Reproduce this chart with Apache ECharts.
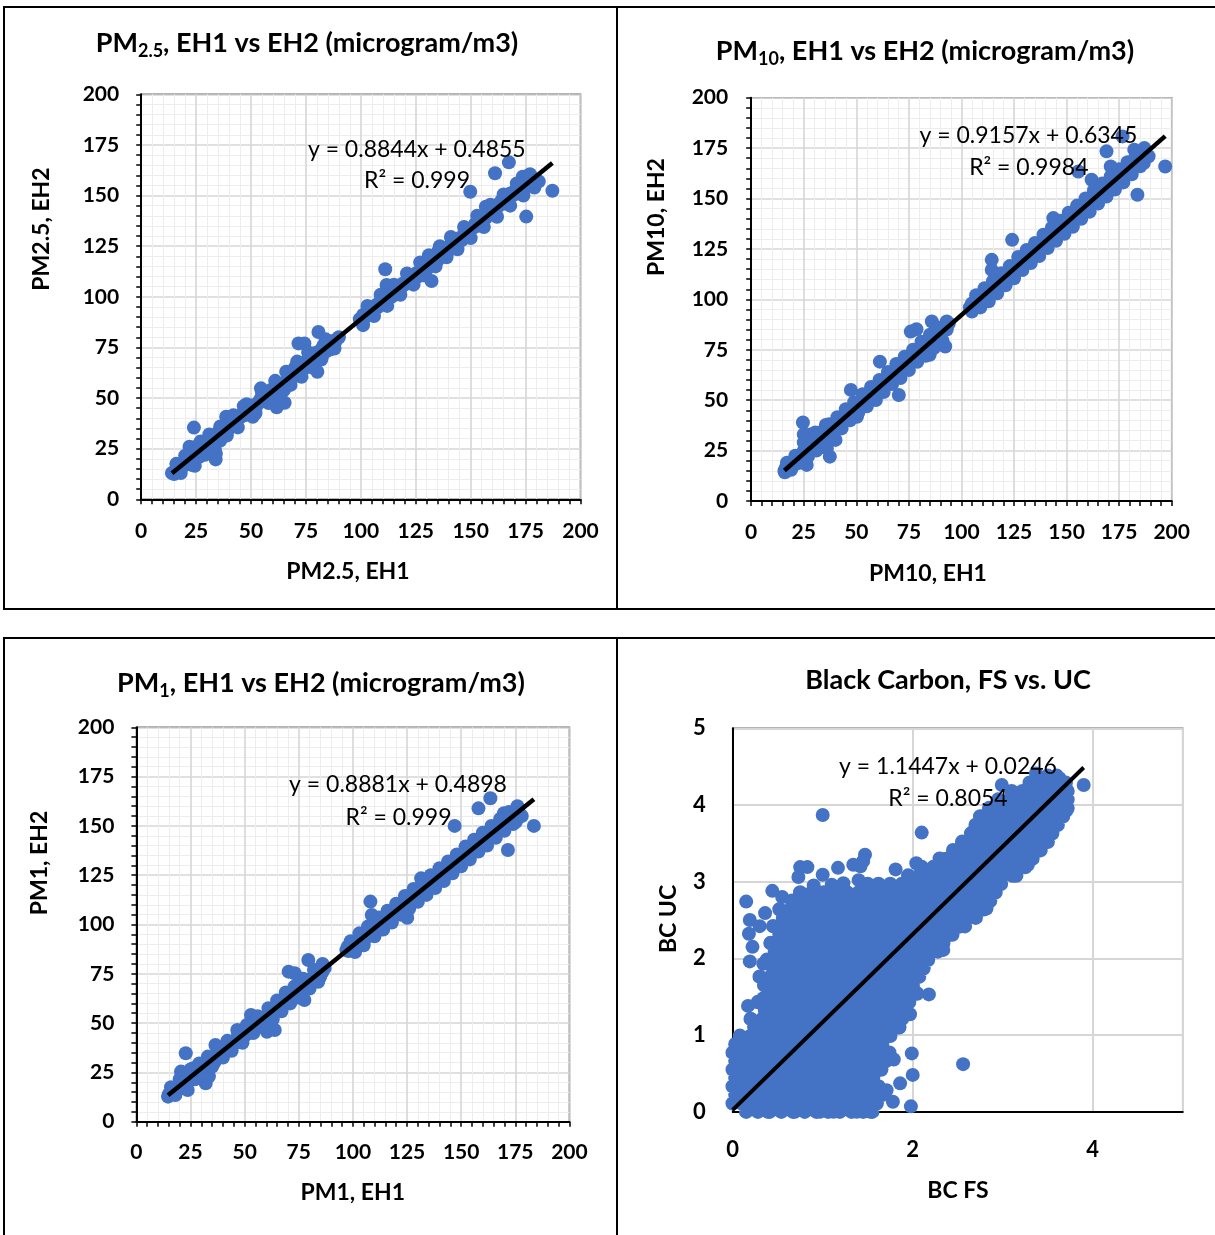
<!DOCTYPE html>
<html><head><meta charset="utf-8">
<script src="https://cdn.jsdelivr.net/npm/echarts/dist/echarts.min.js"></script>
<style>html,body{margin:0;padding:0;background:#fff}#c{width:1215px;height:1235px}</style>
</head><body><div id="c"></div>
<script>
// ---------- DATA ----------
const pmTicks = [0, 25, 50, 75, 100, 125, 150, 175, 200];
const bcXTicks = [0, 2, 4];
const bcYTicks = [0, 1, 2, 3, 4, 5];

const pm25Fit = [0.8844, 0.4855, 0.999];
const pm10Fit = [0.9157, 0.6345, 0.9984];
const pm1Fit  = [0.8881, 0.4898, 0.999];
const bcFit   = [1.1447, 0.0246, 0.8054];

const pm25Data = [
[14,13],[15,12.5],[15.5,14],[16,14.5],[17,14.5],[17.5,15.8],[18,15],[19,16.5],[19.5,17.8],[20,17],[21,19.5],[21.5,18],[22,26],[22,20.5],[23,20],[23.5,22],[24,35.4],[24.4,16.6],[25,22],[25,26],[26,24.5],[26.5,21],[27,25],[27.5,28],[28,23],[29,27],[29.5,25],[30,29],[30.5,26],[31,28],[31.5,30.5],[32,27.5],[32.5,31],[33,29],[33.5,25],[33.9,19.7],[34,22.5],[34.5,31],[35,33],[35.5,30],[36,29],[36.5,32],[37,33.5],[38,34],[38.7,40.8],[39,36],[40,35],[41,37.5],[42,37],[43,38.5],[44,39.5],[45,40.5],
[46,42],[46.7,46],[47,41.5],[48,43.5],[49,42],[50,44.5],[50.8,40.8],[51,46.5],[52,45],[53,47],[54,49],[54.5,54.8],[55,51],[56,48.5],[56.5,53],[57,50],[58,52],[58.5,49],[59,54],[60,52],[60.5,47.5],[61.7,45.4],[62,55],[63,55.5],[63.5,52],[64,57],[65.3,47.7],[65,54],[66,58.5],[67,59],[68,61],
[69,63],[70,65],[70.5,61],[71,66],[71.6,77],[72,63.5],[73,67],[74.3,77],[74,64.5],[75,68],[76,66],[77,70],[77.5,67.5],[78,72],[79,69],[80.2,63],[80,72.5],[80.7,82.6],[81,70],[82,74],[82.5,71],[83,76],[84,73],[85,75.5],[86,74],[86.8,76.2],[87,78],[88,77],[89,79],[90,80],
[99.5,89],[100.8,88.5],[101,91],[102,90],[103,92.5],[104,91.5],[105,94],[106,93],[107,96],[108,95],[109,98],[110,96.5],[111.1,113.6],[111.7,105.8],[111,99],[112,98.5],[113,101],[114,100],[115,103],[116,102],[117,104.5],[118,104],[119,106.5],[120,106],[121,108],[122,107.5],[123,110],[124,109],[125,111.5],[126,110],[127,113],[128,112],[129,114.5],[130,113.5],[131,117],[132.2,107.8],[132,118],[133,116],[134,119.5],[135,118],[135.5,123],[136,121],[137,122],[138,121.5],[139,124],[140,123],[141,126],[142,125],[143,127],[144,127.5],[145,129],[146,128],[147,131],[148,130.5],[149,132],[149.8,151.9],[150,133.5],[151,134],[152,136],[153,135],[154,137.5],[155,137],[156,140],[157,139],[156.9,144.5],[158,143],[159,141],[160,143.5],[161.1,161],[161,145],[162,144],[163,146],[164,147.5],[165,146],[166,149],[167,148],[167.4,166.4],[168,151],[169,150],[170,152],[171,151],[172,154],[173,153],[173.7,159.3],[174,156],[175,154.5],[175.3,139.6],[176,157],[177,155],[178,158],[178.5,154.7],[179,156],[180,157.5],[187.2,152.4],
[16,17.5],[18,13],[20,21.5],[23,17],[27,28.5],[29,22],[31,32],[33,26],[36,36],[39,31.5],[42,41.5],[44,35.5],[48,47],[52,42.5],[55,53],[58,47.5],[61,58.5],[63,51.5],[66,63],[68,56.5],[71,68],[73,60.5],[76,72.5],[78,65],[82,69],[84,79],[88,74.5],
[101,86],[103,95.5],[106,90.5],[109,101],[112,95.5],[115,106],[118,101],[121,111.5],[124,106],[127,117],[129,110.5],[131,120.5],[134,115],[136,125],[139,119.5],[141,129.5],[144,123.5],[147,134.5],[150,129],[153,140],[156,134.5],[159,145.5],[162,139.5],[165,150.5],[168,145],[171,156],[174,150],[177,160.5],[179,154],[181,157]
];

const pm10Data = [
[15.8,15],[16,14.2],[16.5,16.5],[17,15.5],[17.5,17],[18,16],[18.5,17.8],[19,18],[20,19.5],[20.5,18],[21,20.5],[22,21],[22.5,19.5],[23,22.5],[24,22],[24.6,38.9],[25,25],[25,33],[26,24],[26.4,17.9],[27,26],[27,31],[28,27.5],[28,33],[29,26.5],[29.5,30],[30,29],[30.5,34],[31,27.5],[32,30],[32.5,33],[33,29],[34,31.5],[35,33],[35.5,37.7],[36,26],[37.4,22],[37,34],[38,36],[39,35],[40,37.5],[40.1,30.3],[41,39],[42,38.5],[43,40.5],[44,41],[45,43],[46,42],[47,45],[47.4,55.1],[48,44],[49,47],[50,46],[50.3,41.8],[51,48.5],[52,47],[53,49.5],[54,50],[55,51.5],[56,50],[57,54],[58,52.5],[59,56],[59.3,50.1],[60,57],[61,55],[61.2,69.1],[62,59],[63,57.5],[64,60.5],[65,59],[66,62],[67,61],[68,64.5],[69,63],[70,66],[70.2,52.6],[71,65],[72,68],[73,67],[74,70],[75,69.5],[75.9,84],[76,72],[77,70.5],[78,74],[78.6,85.2],[79,72],[80,75],[81,73.5],[82,77],[83,76],[84,78],[84.9,72.5],[85,80],[85.9,89],[86,78],[87,81],[88,80],[89,83],[90,82],[91,85],[92.3,76.6],[92,86],[93,85],[94,88],
[104,96],[104.8,95],[105,98],[106,97],[107,100],[108,99],[109,101],[110,102],[111,103.5],[112,102.5],[113,105],[114,104],[114.4,119.6],[114.4,114.6],[115,107],[116,106],[117,108],[118,109.5],[119,109],[120,111],[121,110],[122,113],[123,112],[124.1,129.5],[124,114],[125,115.5],[126,115],[127,117],[128,116.5],[129,119],[130,118.5],[131,121],[132,120],[133,123],[134,122],[135,125],[136,124.5],[137,127],[138,126],[139,129],[140,128],[141,131],[142,130],[143,133],[143.7,140.3],[144,134.5],[145,132.5],[146,136],[147,135],[148,138],[149,137],[150,139.5],[151,138],[152,141],[153,140],[154,142],[155,141.5],[155.6,163.4],[156,144],[157,143.5],[158,146],[159,145],[160,148],[161,146.5],[161.9,159.3],[162,150],[163,149],[164,152],[165,151],[166,154],[167,153],[168,156],[169,155],[169,173.4],[170,157.5],[171,165.9],[171,156],[172,159],[173,158],[174,161],[175,160],[176,163],[176.6,180.8],[177,162],[178,165],[179,164],[180,167],[181,166],[182,169],[182.2,174.2],[183,168],[183.7,151.9],[184,171],[185,170],[186.7,167.6],[187,172],[188,170.5],[196.9,165.9],
[17,19],[19,15.5],[21,22.5],[23,19],[25,29],[27,22],[29,31],[31,25],[33,34],[35,29],[37,38],[39,32],[41,41.5],[43,36],[45,45.5],[47,40],[49,49],[51,44],[53,53],[55,47],[57,56.5],[59,50.5],[61,60],[63,54],[65,64],[67,58],[69,68],[71,61],[73,71.5],[75,65],[77,75],[79,69],[81,79],[83,72],[85,82.5],[87,76],[89,86],[91,79.5],[93,89],
[105,94],[107,102],[109,96],[111,105.5],[113,99],[115,109],[117,103],[119,113],[121,107],[123,116.5],[125,110.5],[127,121],[129,114.5],[131,124.5],[133,118],[135,128],[137,121.5],[139,132],[141,125.5],[143,135.5],[145,129],[147,139],[149,132.5],[151,143],[153,136],[155,146.5],[157,140],[159,150],[161,143.5],[163,154],[165,147.5],[167,157.5],[169,151],[171,161],[173,154.5],[175,164.5],[177,158],[179,168],[181,162],[183,172],[185,166],[187,175],[189,171]
];

const pm1Data = [
[14.6,12.7],[15,14],[15.5,13.5],[16,15],[16.5,14],[17,16],[17.5,15.2],[18,17],[18.5,16],[19,17.5],[20,18.5],[20.6,25.4],[21,20],[21.5,18.5],[22,21],[22.8,34.7],[23,20.5],[23.7,16.1],[24,23],[24.5,21],[25,24],[26,23.5],[26,27],[27,24],[28,26],[28.5,28],[29,25.5],[30,28],[30.5,25.5],[31,29],[32,19.5],[32,26.5],[32.5,30],[33,28],[33.5,23],[34,31],[35,32],[36,30],[36.5,38.9],[37,34],[38,33],[39,35.5],[40,36],[41,37.5],[42,37],[43,39],[44,40],[45,41],[46,40],[46.6,46.5],[47,42.5],[48,42],[49,44],[50,43.5],[51,46],[52,45],[52.9,54.1],[53,48],[54,48.5],[55,50],[56,48],[57,51.5],[58,50.5],[59,53],[60,52],[60.3,45.6],[61,55],[62,54],[63,56],[63.9,46.5],[64,57],[65,58.5],[66,58],[67,60.5],[68,60],[69,62],[70,63],[70.3,76.1],[71,64],[72,62],[73,66],[73.1,75.3],[74,65],[75,68],[76,66],[77,69.5],[77.6,61.7],[78,70],[79,69],[79.4,82],[80,72],[81,71],[82,74],[83,73],[84,75.5],[84.9,73.5],[85,77],[86,76],[87,78],
[97,87],[97.6,88.7],[98,86.5],[99.6,87.1],[100,90],[101,89],[102,91.5],[103,91],[104,93],[105,92.5],[106,95],[107,94],[108,97],[108.1,111.6],[108.7,104.8],[109,96],[110,99],[111,98],[112,101],[113,100],[114,102.5],[115,102],[116,104],[117,103.5],[118,106],[119,105],[120,107.5],[121,106],[122,109],[123,108.5],[124,110.5],[125,110],[125.1,103.4],[126,112],[127,111],[128,114],[129,113],[130,116],[131,115],[131.5,123.4],[132,118],[133,117],[134,120],[135,119],[136,122],[137,121],[138,123.5],[139,123],[140,125],[141,124],[142,127],[143,126],[144,128.5],[145,128],[146,131],[147,129.5],[147,150],[148,132],[149,131],[150,134],[151,133],[152,136],[153,135],[154,138],[155,137],[156,140],[157,139],[158,142],[158,158.9],[159,141],[160,144],[161,143],[162,146],[163,145],[163.5,164],[164,147],[165,146],[166,149],[167,148],[168,151],[169,150],[169.8,156.4],[170,153],[171,152],[171.6,137.8],[172,155],[173,154],[174,156],[175,155],[175.3,152.1],[176,157],[177,156],[183.6,150],
[16,17.5],[18,13.5],[20,21.5],[22,17],[25,26.5],[27,21.5],[29,29.5],[31,25],[33,33],[35,28],[38,37],[40,32.5],[42,41],[44,36],[47,45.5],[49,40],[51,49],[54,45],[56,53.5],[58,48],[61,57.5],[63,52],[65,61.5],[67,56],[69,65.5],[71,60],[73,68.5],[75,63],[77,72.5],[80,67.5],[82,77],[84,71],[86,80],
[99,91.5],[101,86],[103,95.5],[105,89.5],[107,99],[110,94],[112,103.5],[114,97.5],[116,107],[118,101],[120,110.5],[122,105],[124,114.5],[126,108],[128,118],[130,111.5],[132,121.5],[134,115],[136,125],[138,118.5],[140,128.5],[142,122],[144,132],[146,126],[148,135.5],[150,129.5],[152,139.5],[154,133],[156,143],[158,137],[160,146.5],[162,140],[164,150],[166,144],[168,153.5],[170,147.5],[172,157],[174,151],[176,160],[178,155]
];

// Black carbon: dense cloud read row by row (y, list of x positions)
const bcRows = [
[0.00,[0.15,0.28,0.41,0.54,0.67,0.8,0.93,1.06,1.19,1.32,1.45,1.55]],
[0.11,[0.0,0.1,0.22,0.35,0.48,0.61,0.74,0.87,1.0,1.13,1.26,1.39,1.52,1.6]],
[0.22,[0.03,0.16,0.29,0.42,0.55,0.68,0.81,0.94,1.07,1.2,1.33,1.46,1.58,1.66]],
[0.33,[0.0,0.1,0.23,0.36,0.49,0.62,0.75,0.88,1.01,1.14,1.27,1.4,1.53,1.62]],
[0.44,[0.03,0.16,0.29,0.42,0.55,0.68,0.81,0.94,1.07,1.2,1.33,1.46,1.56]],
[0.55,[0.0,0.1,0.23,0.36,0.49,0.62,0.75,0.88,1.01,1.14,1.27,1.4,1.53,1.65]],
[0.66,[0.03,0.16,0.29,0.42,0.55,0.68,0.81,0.94,1.07,1.2,1.33,1.46,1.59,1.7]],
[0.77,[0.0,0.1,0.23,0.36,0.49,0.62,0.75,0.88,1.01,1.14,1.27,1.4,1.53,1.64,1.74]],
[0.88,[0.03,0.16,0.29,0.42,0.55,0.68,0.81,0.94,1.07,1.2,1.33,1.46,1.59,1.66]],
[0.99,[0.08,0.2,0.33,0.46,0.59,0.72,0.85,0.98,1.11,1.24,1.37,1.5,1.63,1.75]],
[1.10,[0.24,0.32,0.45,0.58,0.71,0.84,0.97,1.1,1.23,1.36,1.49,1.62,1.75,1.85]],
[1.21,[0.2,0.33,0.46,0.59,0.72,0.85,0.98,1.11,1.24,1.37,1.5,1.63,1.76,1.88]],
[1.32,[0.36,0.47,0.6,0.73,0.86,0.99,1.12,1.25,1.38,1.51,1.64,1.77,1.9]],
[1.43,[0.28,0.4,0.53,0.66,0.79,0.92,1.05,1.18,1.31,1.44,1.57,1.7,1.83,1.96]],
[1.54,[0.4,0.52,0.65,0.78,0.91,1.04,1.17,1.3,1.43,1.56,1.69,1.82,1.95,2.05]],
[1.65,[0.35,0.46,0.59,0.72,0.85,0.98,1.11,1.24,1.37,1.5,1.63,1.76,1.89,2.0]],
[1.76,[0.3,0.42,0.55,0.68,0.81,0.94,1.07,1.2,1.33,1.46,1.59,1.72,1.85,1.98,2.07]],
[1.87,[0.45,0.57,0.7,0.83,0.96,1.09,1.22,1.35,1.48,1.61,1.74,1.87,2.0,2.12]],
[1.98,[0.38,0.5,0.63,0.76,0.89,1.02,1.15,1.28,1.41,1.54,1.67,1.8,1.93,2.06,2.17]],
[2.09,[0.47,0.59,0.72,0.85,0.98,1.11,1.24,1.37,1.5,1.63,1.76,1.89,2.02,2.15,2.28]],
[2.20,[0.42,0.55,0.68,0.81,0.94,1.07,1.2,1.33,1.46,1.59,1.72,1.85,1.98,2.11,2.24,2.34]],
[2.31,[0.52,0.63,0.76,0.89,1.02,1.15,1.28,1.41,1.54,1.67,1.8,1.93,2.06,2.19,2.32,2.44]],
[2.42,[0.45,0.58,0.71,0.84,0.97,1.1,1.23,1.36,1.49,1.62,1.75,1.88,2.01,2.14,2.27,2.4,2.53,2.58]],
[2.53,[0.56,0.67,0.8,0.93,1.06,1.19,1.32,1.45,1.58,1.71,1.84,1.97,2.1,2.23,2.36,2.49,2.62,2.7]],
[2.64,[0.52,0.64,0.77,0.9,1.03,1.16,1.29,1.42,1.55,1.68,1.81,1.94,2.07,2.2,2.33,2.46,2.59,2.72,2.79]],
[2.75,[0.66,0.78,0.91,1.04,1.17,1.3,1.43,1.56,1.69,1.82,1.95,2.08,2.21,2.34,2.47,2.6,2.73,2.86]],
[2.86,[0.75,0.88,1.01,1.14,1.27,1.4,1.53,1.66,1.79,1.92,2.05,2.18,2.31,2.44,2.57,2.7,2.83,2.92]],
[2.97,[1.5,1.62,1.75,1.88,2.01,2.14,2.27,2.4,2.53,2.66,2.79,2.92,2.98]],
[3.08,[1.95,2.07,2.2,2.33,2.46,2.59,2.72,2.85,2.98,3.11,3.15]],
[3.19,[2.1,2.23,2.36,2.49,2.62,2.75,2.88,3.01,3.14,3.25]],
[3.30,[2.3,2.42,2.55,2.68,2.81,2.94,3.07,3.2,3.33]],
[3.41,[2.45,2.58,2.71,2.84,2.97,3.1,3.23,3.36,3.42]],
[3.52,[2.55,2.67,2.8,2.93,3.06,3.19,3.32,3.45,3.5]],
[3.63,[2.65,2.78,2.91,3.04,3.17,3.3,3.43,3.55]],
[3.74,[2.7,2.82,2.95,3.08,3.21,3.34,3.47,3.61]],
[3.85,[2.75,2.88,3.01,3.14,3.27,3.4,3.53,3.67]],
[3.96,[2.85,2.97,3.1,3.23,3.36,3.49,3.62,3.72]],
[4.07,[2.95,3.08,3.21,3.34,3.47,3.6,3.72]],
[4.18,[3.1,3.22,3.35,3.48,3.61,3.72]],
[4.29,[3.3,3.43,3.56,3.7]],
[4.38,[3.38,3.5,3.6]]
];
const bcScattered = [
[1.0,3.87],[2.1,3.64],[1.47,3.35],[1.45,3.27],[1.42,3.2],[0.75,3.19],[0.83,3.19],[1.17,3.18],[1.34,3.22],[1.81,3.16],[2.04,3.24],[0.73,3.06],[1.0,3.09],[1.4,3.02],[1.23,2.98],[1.64,2.93],[0.9,2.95],[1.1,2.96],[0.55,2.8],[0.44,2.88],[0.15,2.74],[0.36,2.59],[0.6,2.6],[0.19,2.5],[0.3,2.42],[0.18,2.32],[0.22,2.15],[0.19,1.96],[0.34,1.93],[0.17,1.38],[0.34,1.48],
[2.99,4.26],[3.37,4.41],[3.63,4.35],[3.9,4.26],[2.77,3.85],[2.69,3.46],[2.37,3.3],[3.71,3.93],[3.51,3.59],[3.28,3.22],[2.9,2.98],[2.82,2.65],
[2.34,2.11],[2.18,1.53],[1.97,1.27],[1.99,0.76],[2.0,0.48],[1.86,0.37],[1.71,0.28],[1.78,0.13],[1.98,0.07],[2.56,0.62],[1.79,0.68],[1.85,1.1],
[0.39,0.0],[0.69,0.0],[0.97,0.0],[1.12,0.0],[1.38,0.0],[1.53,0.0]
];

// ---------- BUILD ----------
const bcCloud = [];
bcRows.forEach(r => r[1].forEach(x => bcCloud.push([x, r[0]])));
const bcAll = bcCloud.concat(bcScattered);

const FONT = 'Lato, "Noto Sans", sans-serif';
const BLUE = '#4472C4';

function trend(data, fit) {
  const xs = data.map(d => d[0]);
  const x0 = Math.min(...xs), x1 = Math.max(...xs);
  return [[x0, fit[0]*x0 + fit[1]], [x1, fit[0]*x1 + fit[1]]];
}

const grids = [
  {left:141.2, top:94.3, width:439.3, height:405},
  {left:751.2, top:97.7, width:420.5, height:403.3},
  {left:136.4, top:727.3, width:433, height:394.4},
  {left:732.7, top:728.3, width:450, height:383.4}
].map(g => Object.assign(g, {show:true, borderColor:'#6b6b6b', borderWidth:1.5, backgroundColor:'transparent', containLabel:false, outerBoundsMode:'none'}));

function pmAxis(idx, margin) {
  return {
    gridIndex: idx, type:'value', min: pmTicks[0], max: pmTicks[pmTicks.length-1], interval: pmTicks[1]-pmTicks[0],
    axisLine:{show:true, onZero:false, lineStyle:{color:'#000', width:2}},
    axisTick:{show:true, inside:false, length:5, lineStyle:{color:'#000', width:1.5}},
    minorTick:{show:true, splitNumber:5, length:5, lineStyle:{color:'#000', width:1.5}},
    splitLine:{show:true, lineStyle:{color:'#d6d6d6', width:1.6, type:'solid'}},
    minorSplitLine:{show:true, lineStyle:{color:'#ededed', width:1, type:'solid'}},
    axisLabel:{show:true, margin: margin, fontSize:21, fontWeight:'bold', color:'#000', fontFamily:FONT}
  };
}
function bcAxis(idx, ticks, margin) {
  return {
    gridIndex: idx, type:'value', min: 0, max: 5, interval: ticks[1]-ticks[0],
    axisLine:{show:true, onZero:false, lineStyle:{color:'#000', width:2}},
    axisTick:{show:false}, minorTick:{show:false},
    splitLine:{show:true, lineStyle:{color:'#d6d6d6', width:2, type:'solid'}},
    axisLabel:{show:true, margin: margin, fontSize:22, fontWeight:'bold', color:'#000', fontFamily:FONT,
      formatter: v => ticks.indexOf(v) >= 0 ? String(v) : ''}
  };
}

function scat(i, data, size, large) {
  const s = {type:'scatter', xAxisIndex:i, yAxisIndex:i, data:data, symbol:'circle', symbolSize:size,
    itemStyle:{color:BLUE, opacity:1, borderWidth:0, borderColor:BLUE, shadowBlur:0},
    emphasis:{disabled:true}, clip:false, silent:true, z:2, animation:false};
  if (large) { s.large = true; s.largeThreshold = 50; s.progressive = 0; }
  return s;
}
function line(i, data, fit, w) {
  return {type:'line', xAxisIndex:i, yAxisIndex:i, data:trend(data, fit), showSymbol:false, symbol:'none',
    lineStyle:{color:'#000', width:w}, clip:false, silent:true, z:3, animation:false};
}

function txt(x, y, text, size, bold, rot) {
  return {type:'text', x:x, y:y, rotation: rot ? Math.PI/2 : 0, z:100,
    style:{text:text, fontSize:size, fontWeight: bold ? 'bold':'normal', fontFamily:FONT, fill:'#000',
      align:'center', verticalAlign:'middle'}};
}
function subTitle(x, y, main, sub, rest) {
  return {type:'text', x:x, y:y, z:100,
    style:{text:'{a|' + main + '}{s|' + sub + '}{a|' + rest + '}', fill:'#000', align:'center', verticalAlign:'middle',
      rich:{a:{fontSize:27, fontWeight:'bold', fontFamily:FONT, fill:'#000'},
            s:{fontSize:18, fontWeight:'bold', fontFamily:FONT, fill:'#000', padding:[16,0,0,0]}}}};
}
function eq(fit) { return 'y = ' + fit[0] + 'x + ' + fit[1]; }
function r2(fit) { return 'R\u00B2 = ' + fit[2]; }
function ln(x1,y1,x2,y2) {
  return {type:'line', z:50, shape:{x1:x1,y1:y1,x2:x2,y2:y2}, style:{stroke:'#000', lineWidth:2}};
}

const graphics = [
  ln(3,7,1215,7), ln(4,7,4,609), ln(3,609,1215,609), ln(617,7,617,609),
  ln(3,638,1215,638), ln(4,638,4,1235), ln(617,638,617,1235),
  subTitle(307, 43, 'PM', '2.5', ', EH1 vs EH2 (microgram/m3)'),
  subTitle(925, 51, 'PM', '10', ', EH1 vs EH2 (microgram/m3)'),
  subTitle(321, 683, 'PM', '1', ', EH1 vs EH2 (microgram/m3)'),
  txt(948, 680, 'Black Carbon, FS vs. UC', 27, true),
  txt(348, 572, 'PM2.5, EH1', 23, true), txt(41.5, 229, 'PM2.5, EH2', 23, true, true),
  txt(928, 573.5, 'PM10, EH1', 23, true), txt(657, 217, 'PM10, EH2', 23, true, true),
  txt(352.7, 1192.5, 'PM1, EH1', 23, true), txt(39.5, 863, 'PM1, EH2', 23, true, true),
  txt(958, 1191, 'BC FS', 23, true), txt(668.7, 919, 'BC UC', 23, true, true),
  txt(416.8, 149.5, eq(pm25Fit), 23, false), txt(417, 181, r2(pm25Fit), 23, false),
  txt(1028.4, 135.8, eq(pm10Fit), 23, false), txt(1028.8, 167.2, r2(pm10Fit), 23, false),
  txt(398, 785, eq(pm1Fit), 23, false), txt(398.5, 818, r2(pm1Fit), 23, false),
  txt(948, 766.7, eq(bcFit), 23, false), txt(948, 798.3, r2(bcFit), 23, false)
];

const chart = echarts.init(document.getElementById('c'), null, {renderer:'canvas', width:1215, height:1235});
chart.setOption({
  animation:false,
  backgroundColor:'#fff',
  textStyle:{fontFamily:FONT},
  grid: grids,
  xAxis: [pmAxis(0,21), pmAxis(1,21), pmAxis(2,20), bcAxis(3, bcXTicks, 27)],
  yAxis: [pmAxis(0,22), pmAxis(1,23), pmAxis(2,22), bcAxis(3, bcYTicks, 27)],
  series: [
    scat(0, pm25Data, 14), line(0, pm25Data, pm25Fit, 4.5),
    scat(1, pm10Data, 14), line(1, pm10Data, pm10Fit, 4.5),
    scat(2, pm1Data, 14),  line(2, pm1Data, pm1Fit, 4.5),
    scat(3, bcCloud, 14.5, true), scat(3, bcScattered, 14), line(3, bcAll, bcFit, 4)
  ],
  graphic: graphics
});
</script>
</body></html>
